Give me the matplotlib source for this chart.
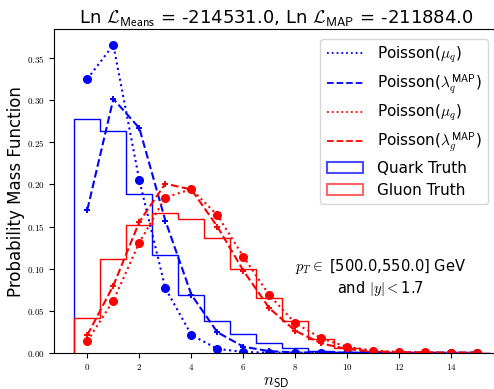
import numpy as np
import matplotlib; matplotlib.use('Agg')
import matplotlib.pyplot as plt
from matplotlib.lines import Line2D
from matplotlib.patches import Patch
from matplotlib.ticker import FuncFormatter

plt.rcParams['font.family'] = 'DejaVu Sans'
plt.rcParams['mathtext.fontset'] = 'cm'

n_vals = list(range(16))
mu_q  = [0.3255, 0.366, 0.2048, 0.0767, 0.0212, 0.0046, 0.0009, 0.0001, 0.0, 0.0, 0.0, 0.0, 0.0, 0.0, 0.0, 0.0]
lam_q = [0.170, 0.3017, 0.267, 0.157, 0.069, 0.0243, 0.0072, 0.0018, 0.0004, 0.0001, 0.0, 0.0, 0.0, 0.0, 0.0, 0.0]
mu_g  = [0.0139, 0.0619, 0.131, 0.1845, 0.1945, 0.1636, 0.1143, 0.0683, 0.035, 0.0171, 0.0068, 0.0026, 0.0009, 0.0003, 0.0001, 0.0]
lam_g = [0.021, 0.0798, 0.1556, 0.201, 0.194, 0.150, 0.0976, 0.0529, 0.026, 0.011, 0.0043, 0.0015, 0.0005, 0.0001, 0.0, 0.0]
quark_truth = [0.278, 0.264, 0.189, 0.1163, 0.0683, 0.038, 0.022, 0.0119, 0.0052, 0.002, 0.001, 0.0005, 0.0002, 0.0001, 0.0, 0.0]
gluon_truth = [0.041, 0.111, 0.152, 0.166, 0.159, 0.136, 0.099, 0.0655, 0.038, 0.016, 0.006, 0.002, 0.001, 0.0004, 0.0001, 0.0]

ll_means, ll_map = -214531.0, -211884.0
pt_lo, pt_hi, y_max = 500.0, 550.0, 1.7

fig = plt.figure(figsize=(4.94, 3.89), dpi=100)
ax = fig.add_axes([0.1097, 0.0933, 0.8974, 0.8309])

edges = np.arange(-0.5, 16.0, 1.0)
ax.hist(n_vals, bins=edges, weights=quark_truth, histtype='step', color='blue', lw=1.0)
ax.hist(n_vals, bins=edges, weights=gluon_truth, histtype='step', color='red', lw=1.0)

series = [(mu_q, ':', 'blue', 'o', r'Poisson($\mu_q$)'),
          (lam_q, '--', 'blue', '+', r'Poisson($\lambda_q^{\mathsf{MAP}}$)'),
          (mu_g, ':', 'red', 'o', r'Poisson($\mu_q$)'),
          (lam_g, '--', 'red', '+', r'Poisson($\lambda_g^{\mathsf{MAP}}$)')]
handles = []
for vals, ls, c, m, lab in series:
    if m == 'o':
        ax.plot(n_vals, vals, ls=ls, color=c, marker=m, ms=5.5, lw=1.5)
    else:
        ax.plot(n_vals, vals, ls=ls, color=c, marker=m, ms=5, mew=1.4, lw=1.5)
    handles.append(Line2D([], [], ls=ls, color=c, lw=1.3, label=lab))
handles.append(Patch(facecolor='none', edgecolor='blue', alpha=0.7, lw=1.5, label='Quark Truth'))
handles.append(Patch(facecolor='none', edgecolor='red', alpha=0.6, lw=1.5, label='Gluon Truth'))

ax.set_xlim(-1.275, 15.775)
ax.set_ylim(0, 0.3843)
ax.set_xticks(range(0, 15, 2))
ax.set_yticks(np.arange(0, 0.36, 0.05))
ax.xaxis.set_major_formatter(FuncFormatter(lambda v, p: f'${v:.0f}$'))
ax.yaxis.set_major_formatter(FuncFormatter(lambda v, p: f'${v:.2f}$'))
ax.tick_params(labelsize=6.5, length=3.5, width=0.8)

ax.set_xlabel(r'$n_{\mathsf{SD}}$', fontsize=12, labelpad=0)
ax.set_ylabel('Probability Mass Function', fontsize=12, labelpad=1)
ax.set_title(r'Ln $\mathcal{L}_{\mathsf{Means}}$ = -' + f'{abs(ll_means):.1f}' +
             r', Ln $\mathcal{L}_{\mathsf{MAP}}$ = -' + f'{abs(ll_map):.1f}', fontsize=13, pad=4)

ax.text(11.26, 0.089, r'$p_T \in$' + f' [{pt_lo:.1f},{pt_hi:.1f}] GeV\nand ' + r'$|y| < $' + f'{y_max}',
        ha='center', va='center', fontsize=10.5)

ax.legend(handles=handles, loc='upper right', fontsize=11, framealpha=0.8, borderaxespad=0.6,
          handlelength=2.4, handletextpad=0.9, labelspacing=0.45)

fig.savefig('out.png', dpi=100)
